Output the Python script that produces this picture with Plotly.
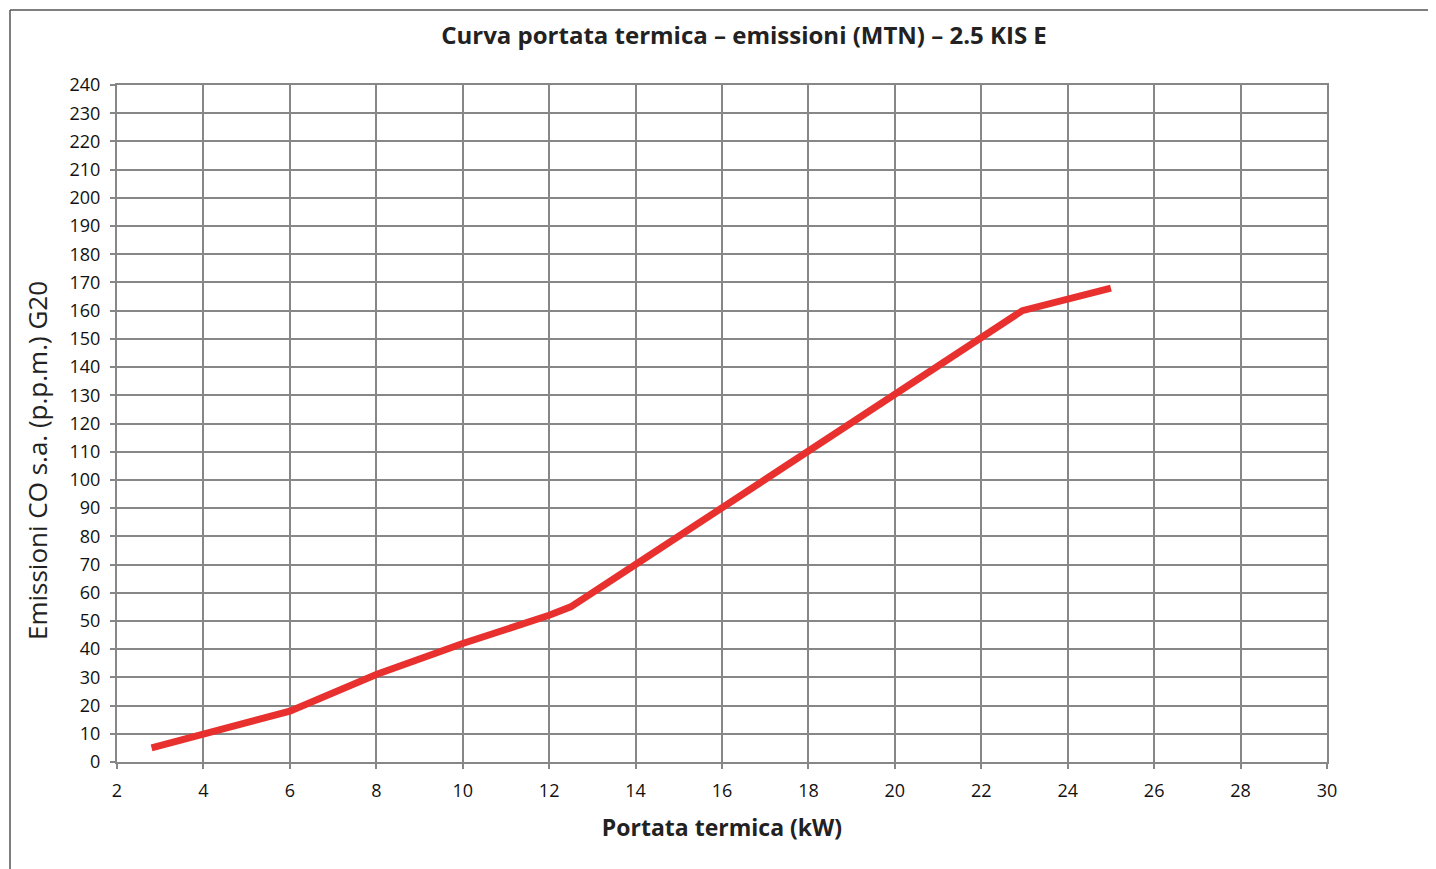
import plotly.graph_objects as go

x_kw = [2.8, 4.0, 6.0, 8.0, 10.0, 12.0, 12.5, 14.0, 16.0, 18.0, 20.0, 22.0, 22.95, 25.0]
co_ppm = [5, 10, 18, 31, 42, 52, 55, 70, 90, 110, 130, 150, 160, 168]

x_ticks = list(range(2, 31, 2))
y_ticks = list(range(0, 241, 10))

title_text = "Curva portata termica – emissioni (MTN) – 2.5 KIS E"
x_title = "Portata termica (kW)"
y_title = "Emissioni CO s.a. (p.p.m.) G20"

OFF = 8  # page body margin
W, H = 1436, 869
L, R, T, B = 117 - OFF, 1436 - 1327 + OFF, 85 - OFF, 869 - 762 + OFF
pw, ph = W - L - R, H - T - B

def px_to_paper_x(px):
    return (px - OFF - L) / pw

def px_to_paper_y(py):
    return (H - B - (py - OFF)) / ph

fig = go.Figure()
fig.add_trace(go.Scatter(
    x=x_kw, y=co_ppm, mode="lines",
    line=dict(color="#e8312f", width=7),
    showlegend=False, hoverinfo="x+y",
))

grid = "#878787"
fig.update_layout(
    width=W, height=H,
    margin=dict(l=L, r=R, t=T, b=B),
    paper_bgcolor="white", plot_bgcolor="white",
    font=dict(family="Open Sans, sans-serif", color="#1a1a1a"),
    title=dict(text="<b>" + title_text + "</b>", x=px_to_paper_x(744), xref="paper", xanchor="center",
               y=1 - (36 - OFF) / H, yanchor="middle",
               font=dict(size=24, family="Open Sans, sans-serif", color="#222")),
    xaxis=dict(range=[2, 30], tickvals=x_ticks, showgrid=True, gridcolor=grid, gridwidth=2,
               zeroline=False, showline=True, linecolor=grid, linewidth=2, mirror=True,
               ticks="outside", ticklen=5, tickwidth=2, tickcolor=grid, ticklabelstandoff=6,
               tickfont=dict(size=18, color="#111"),
               title=dict(text="<b>" + x_title + "</b>", font=dict(size=23, color="#222"), standoff=19)),
    yaxis=dict(range=[0, 240], tickvals=y_ticks, showgrid=True, gridcolor=grid, gridwidth=2,
               zeroline=False, showline=True, linecolor=grid, linewidth=2, mirror=True,
               ticks="outside", ticklen=5, tickwidth=2, tickcolor=grid, ticklabelstandoff=6,
               tickfont=dict(size=18, color="#111")),
    annotations=[
        dict(text=y_title, textangle=-90, xref="paper", yref="paper",
             x=px_to_paper_x(37), y=px_to_paper_y(461), xanchor="center", yanchor="middle",
             showarrow=False, font=dict(size=26, color="#222")),
    ],
    shapes=[
        dict(type="line", xref="paper", yref="paper",
             x0=px_to_paper_x(10), x1=px_to_paper_x(10),
             y0=px_to_paper_y(10), y1=px_to_paper_y(H + 20),
             line=dict(color="#555", width=1.5)),
        dict(type="line", xref="paper", yref="paper",
             x0=px_to_paper_x(10), x1=px_to_paper_x(W + 20),
             y0=px_to_paper_y(10), y1=px_to_paper_y(10),
             line=dict(color="#555", width=1.5)),
    ],
)

fig.write_html("out.html")
